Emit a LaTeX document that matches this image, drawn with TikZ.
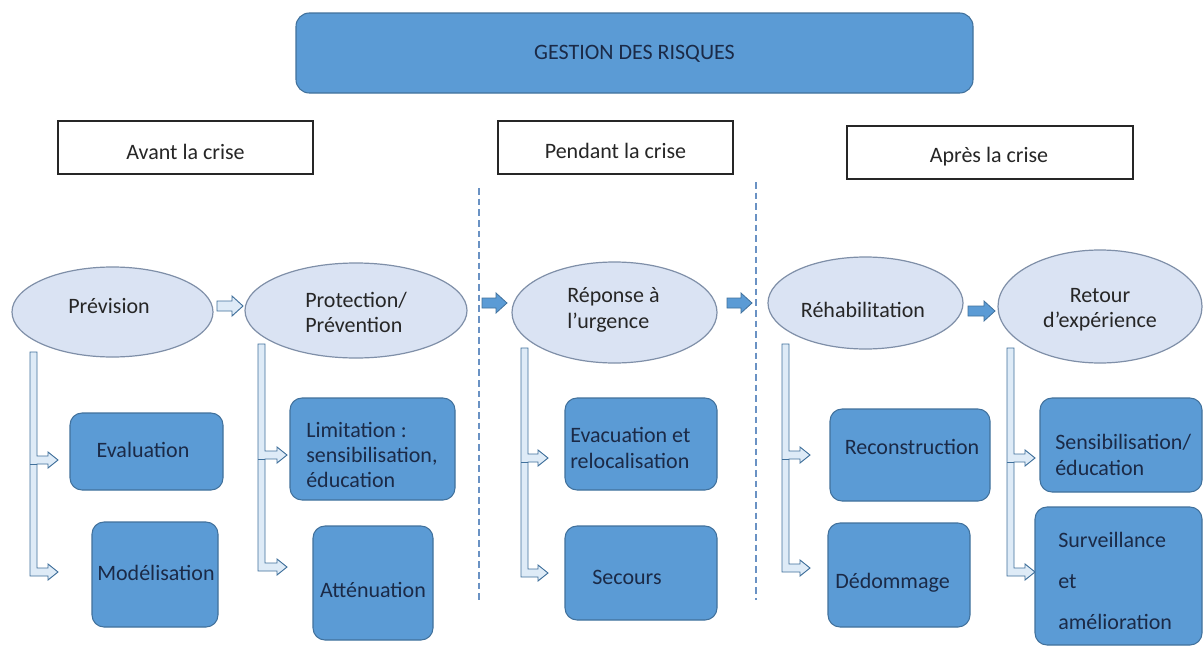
\documentclass[tikz,border=0pt]{standalone}
\usepackage{fontspec}
\setmainfont{Carlito}
\usetikzlibrary{calc,shapes.geometric}
\definecolor{boxblue}{HTML}{5B9BD5}
\definecolor{boxedge}{HTML}{41719C}
\definecolor{elfill}{HTML}{DAE3F3}
\definecolor{eledge}{HTML}{7F8FA8}
\definecolor{arrfill}{HTML}{DEEBF7}
\definecolor{navytext}{HTML}{1B2A47}
\definecolor{greytext}{HTML}{262626}
\definecolor{dashblue}{HTML}{6A92C4}
\tikzset{
  basefont/.style={font=\fontsize{16.5}{19}\selectfont},
  topbox/.style={draw=boxedge, fill=boxblue, line width=0.8pt, rounded corners=10pt, inner sep=0pt},
  phasebox/.style={draw=black!85, fill=white, line width=1.1pt, inner sep=0pt},
  ellbox/.style={ellipse, draw=eledge, fill=elfill, line width=0.9pt, inner sep=0pt},
  bluebox/.style={draw=boxedge, fill=boxblue, line width=0.8pt, rounded corners=9pt, inner sep=0pt},
  btext/.style={basefont, text=navytext, inner sep=0pt},
  gtext/.style={basefont, text=greytext, inner sep=0pt},
  branchstyle/.style={fill=arrfill, draw=boxedge, line width=0.7pt, line join=miter},
  lightarrow/.style={fill=arrfill, draw=boxedge, line width=0.7pt},
  solidarrow/.style={fill=boxblue, draw=boxedge, line width=0.6pt},
  sepline/.style={draw=dashblue, line width=0.8pt, dash pattern=on 5pt off 3pt}
}
% bent branch arrow: #1 left x of bar, #2 top y, #3 middle branch y, #4 bottom branch y, #5 tip x
\newcommand\branchar[5]{%
  \filldraw[branchstyle] ({#1},{#2}) -- ({#1+7},{#2}) -- ({#1+7},{#3-4}) -- ({#5-10},{#3-4})
    -- ({#5-10},{#3-8}) -- ({#5},{#3}) -- ({#5-10},{#3+8}) -- ({#5-10},{#3+4})
    -- ({#1+7},{#3+4}) -- ({#1+7},{#4-4}) -- ({#5-10},{#4-4}) -- ({#5-10},{#4-8})
    -- ({#5},{#4}) -- ({#5-10},{#4+8}) -- ({#5-10},{#4+4}) -- ({#1},{#4+4}) -- cycle;
  \draw[boxedge, line width=0.7pt] ({#1},{#3+4}) -- ({#1+7},{#3+4});
}
% block arrow: #1 tail x, #2 tip x, #3 centre y, #4 style
\newcommand\blockar[4]{%
  \filldraw[#4] ({#1},{#3-5}) -- ({#2-11},{#3-5}) -- ({#2-11},{#3-10}) -- ({#2},{#3})
    -- ({#2-11},{#3+10}) -- ({#2-11},{#3+5}) -- ({#1},{#3+5}) -- cycle;
}
\begin{document}
\begin{tikzpicture}[x=0.75pt,y=-0.75pt]
\useasboundingbox (0,0) rectangle (1203,646);
\fill[white] (0,0) rectangle (1203,646);

% title
\node[topbox, minimum width=507.75pt, minimum height=60pt] (top) at (634.5,53) {};
\node[btext] (ttop) at (634.5,54) {GESTION DES RISQUES};

% phase headers
\node[phasebox, minimum width=191.25pt, minimum height=39.75pt] (avant) at (185.5,147.5) {};
\node[gtext] (tavant) at (185.5,152) {Avant la crise};
\node[phasebox, minimum width=176.25pt, minimum height=39.75pt] (pendant) at (615.5,147.5) {};
\node[gtext] (tpendant) at (615.5,151) {Pendant la crise};
\node[phasebox, minimum width=214.5pt, minimum height=39.75pt] (apres) at (990,152.5) {};
\node[gtext] (tapres) at (989,157) {Après la crise};

% separators
\coordinate (s1a) at (479,188); \coordinate (s1b) at (479,602);
\coordinate (s2a) at (756,182); \coordinate (s2b) at (756,600);
\draw[sepline] (s1a) -- (s1b);
\draw[sepline] (s2a) -- (s2b);

% ellipses
\node[ellbox, minimum width=150.75pt, minimum height=67.5pt] (e1) at (112.5,312) {};
\node[gtext] (te1) at (109,306) {Prévision};
\node[ellbox, minimum width=166.5pt, minimum height=71.25pt] (e2) at (356,310.5) {};
\node[gtext, anchor=west, align=left] (te2) at (305,312.5) {Protection/\\Prévention};
\node[ellbox, minimum width=153.75pt, minimum height=75.75pt] (e3) at (614.5,312.5) {};
\node[gtext, anchor=west, align=left] (te3) at (567,310) {Réponse à\\l’urgence};
\node[ellbox, minimum width=146.25pt, minimum height=69pt] (e4) at (865.5,303) {};
\node[gtext] (te4) at (863,310) {Réhabilitation};
\node[ellbox, minimum width=153pt, minimum height=84.75pt] (e5) at (1100,306.5) {};
\node[gtext, align=center] (te5) at (1100,309.5) {Retour\\d’expérience};

% arrows between ellipses
\blockar{217}{243}{306}{lightarrow}
\blockar{482}{507}{303}{solidarrow}
\blockar{727}{752}{303}{solidarrow}
\blockar{968}{995}{311}{solidarrow}

% branch arrows
\branchar{30}{352}{460}{572}{58}
\branchar{258}{344}{455}{567}{287}
\branchar{521}{348}{458}{573}{548}
\branchar{782}{344}{455}{568}{810}
\branchar{1007}{348}{458}{572}{1035}

% boxes - avant
\node[bluebox, minimum width=114.75pt, minimum height=57.75pt] (eval) at (146.5,451.5) {};
\node[btext] (teval) at (143,450) {Evaluation};
\node[bluebox, minimum width=94.5pt, minimum height=78.75pt] (model) at (155,574.5) {};
\node[btext] (tmodel) at (156,573) {Modélisation};
\node[bluebox, minimum width=123.75pt, minimum height=76.5pt] (limit) at (372.5,449) {};
\node[btext, anchor=west, align=left] (tlimit) at (306,455) {Limitation :\\sensibilisation,\\éducation};
\node[bluebox, minimum width=90pt, minimum height=85.5pt] (atten) at (373,583) {};
\node[btext] (tatten) at (373,590) {Atténuation};

% boxes - pendant
\node[bluebox, minimum width=114pt, minimum height=69pt] (evac) at (641,444) {};
\node[btext, anchor=west, align=left] (tevac) at (570,448) {Evacuation et\\relocalisation};
\node[bluebox, minimum width=114pt, minimum height=70.5pt] (secours) at (641,573) {};
\node[btext] (tsecours) at (627,577) {Secours};

% boxes - apres
\node[bluebox, minimum width=120pt, minimum height=69pt] (recon) at (910,455) {};
\node[btext] (trecon) at (912,447) {Reconstruction};
\node[bluebox, minimum width=106.5pt, minimum height=78pt] (dedom) at (899,575) {};
\node[btext, anchor=west] (tdedom) at (835,583) {Dédommage};
\node[bluebox, minimum width=121.5pt, minimum height=70.5pt] (sensi) at (1121,445) {};
\node[btext, anchor=west, align=left] (tsensi) at (1055,455) {Sensibilisation/\\éducation};
\node[bluebox, minimum width=125.25pt, minimum height=103.5pt] (surv) at (1118.5,576) {};
\node[btext, anchor=west, align=left] (tsurv) at (1058,581) {Surveillance\\[11.5pt]et\\[11.5pt]amélioration};
\end{tikzpicture}
\end{document}
